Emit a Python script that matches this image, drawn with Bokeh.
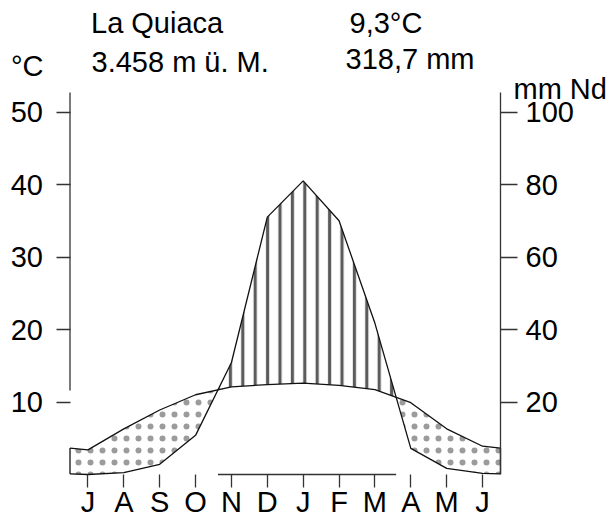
import numpy as np
from bokeh.plotting import figure
from bokeh.models import Range1d, LinearAxis, FixedTicker, Label
from bokeh.embed import file_html
from bokeh.resources import INLINE

# ---------------- data ----------------
months = ["J", "A", "S", "O", "N", "D", "J", "F", "M", "A", "M", "J"]
temp = [3.4, 6.3, 8.9, 11.0, 12.1, 12.4, 12.6, 12.3, 11.7, 9.9, 6.3, 3.9]      # °C
precip = [0.0, 0.5, 2.8, 10.8, 30.9, 71.0, 81.0, 70.0, 41.7, 7.2, 1.7, 0.3]    # mm
temp_ticks = [10, 20, 30, 40, 50]
precip_ticks = [20, 40, 60, 80, 100]
station = "La Quiaca"
altitude = "3.458 m ü. M."
mean_temp = "9,3°C"
annual_precip = "318,7 mm"
temp_unit = "°C"
precip_unit = "mm Nd"

FONT = "Liberation Sans"
FS = "29px"
W, H = 616, 517

# ---------------- derived geometry ----------------
xm = np.arange(len(months)) + 0.5
t = np.array(temp, dtype=float)
pr = np.array(precip, dtype=float) / 2.0          # 20 mm <-> 10 °C
t_edge = (t[0] + t[-1]) / 2.0
p_edge = (pr[0] + pr[-1]) / 2.0
xs = np.concatenate([[0.0], xm, [12.0]])
ts = np.concatenate([[t_edge], t, [t_edge]])
ps = np.concatenate([[p_edge], pr, [p_edge]])

X, T, P, crossings = [xs[0]], [ts[0]], [ps[0]], []
for i in range(len(xs) - 1):
    d0 = ps[i] - ts[i]
    d1 = ps[i + 1] - ts[i + 1]
    if d0 * d1 < 0:
        f = d0 / (d0 - d1)
        xc = xs[i] + f * (xs[i + 1] - xs[i])
        tc = ts[i] + f * (ts[i + 1] - ts[i])
        X.append(xc); T.append(tc); P.append(tc); crossings.append(xc)
    X.append(xs[i + 1]); T.append(ts[i + 1]); P.append(ps[i + 1])
X, T, P = np.array(X), np.array(T), np.array(P)

# ---------------- layout: frame = whole canvas, axes at fixed locations ----------------
X0_PX, X12_PX = 69.5, 500.0          # screen x of diagram's left / right edge
Y0_PX, PX_PER_C = 474.0, 7.25        # screen y of 0 °C and scale
YTOP = (Y0_PX - 92.0) / PX_PER_C     # top of axes
px_per_month = (X12_PX - X0_PX) / 12.0
xr = Range1d(-X0_PX / px_per_month, 12.0 + (W - X12_PX) / px_per_month)
yr = Range1d(-(H - Y0_PX) / PX_PER_C, Y0_PX / PX_PER_C)

p = figure(width=W, height=H, x_range=xr, y_range=yr, output_backend="svg",
           toolbar_location=None, min_border=0, title=None,
           x_axis_type=None, y_axis_type=None)
p.extra_y_ranges = {"mm": Range1d(2 * yr.start, 2 * yr.end)}
p.grid.visible = False
p.outline_line_color = None
p.background_fill_color = "white"
p.border_fill_color = "white"

AX = "#333333"

def style_axis(a):
    a.major_tick_in = 0
    a.minor_tick_line_color = None
    a.major_tick_line_color = AX
    a.major_tick_line_width = 1.3
    a.major_label_text_font = FONT
    a.major_label_text_font_size = FS
    a.major_label_text_color = "black"

# left axis (°C)
la = LinearAxis(ticker=FixedTicker(ticks=temp_ticks), fixed_location=0)
style_axis(la)
la.axis_line_color = None
la.major_tick_out = 14
la.major_label_standoff = 13
p.add_layout(la, "left")

# right axis (mm)
ra = LinearAxis(y_range_name="mm", ticker=FixedTicker(ticks=precip_ticks),
                fixed_location=12, bounds=(0, 2 * YTOP))
style_axis(ra)
ra.axis_line_color = AX
ra.axis_line_width = 1.3
ra.major_tick_out = 17
ra.major_label_standoff = 8
p.add_layout(ra, "right")

# bottom axis (months)
ba = LinearAxis(ticker=FixedTicker(ticks=list(xm)), fixed_location=0,
                major_label_overrides={float(x): m for x, m in zip(xm, months)})
style_axis(ba)
ba.axis_line_color = None
ba.major_tick_out = 13
ba.major_label_standoff = -2
p.add_layout(ba, "below")

# hatched areas
humid_top = np.maximum(P, T)
arid_top = np.maximum(T, P)
p.varea(x=X, y1=T, y2=humid_top, fill_alpha=0, hatch_pattern="vertical_line",
        hatch_color="#4a4a4a", hatch_alpha=0.9, hatch_scale=12.4, hatch_weight=3.2)
p.varea(x=X, y1=P, y2=arid_top, fill_alpha=0, hatch_pattern="dot",
        hatch_color="#8a8a8a", hatch_alpha=0.85, hatch_scale=12, hatch_weight=1.5)

# curves
p.line(x=xs, y=ts, line_color="#111111", line_width=1.3)
p.line(x=xs, y=ps, line_color="#111111", line_width=1.3)
# closing edges of the diagram and the left axis line
p.segment(x0=[0, 12], y0=[p_edge, p_edge], x1=[0, 12], y1=[t_edge, t_edge],
          line_color="#111111", line_width=1.3)
p.segment(x0=[0], y0=[11.6], x1=[0], y1=[YTOP], line_color=AX, line_width=1.3)
# humid period marker on the base line
p.segment(x0=[crossings[0]], y0=[0], x1=[crossings[-1]], y1=[0],
          line_color=AX, line_width=1.5)

# header texts (screen px from left / bottom of canvas)
DY = 11.0
def lab(txt, x, baseline_y):
    p.add_layout(Label(x=x, y=H - baseline_y + DY, x_units="screen", y_units="screen",
                       text=txt, text_font=FONT, text_font_size=FS,
                       text_color="black", text_align="left",
                       text_baseline="alphabetic"))

lab(station, 90.5, 33.3)
lab(altitude, 91, 72.7)
lab(mean_temp, 349, 33)
lab(annual_precip, 345, 69)
lab(temp_unit, 10.5, 76)
lab(precip_unit, 513, 99.5)

open("out.html", "w").write(file_html(p, INLINE))
